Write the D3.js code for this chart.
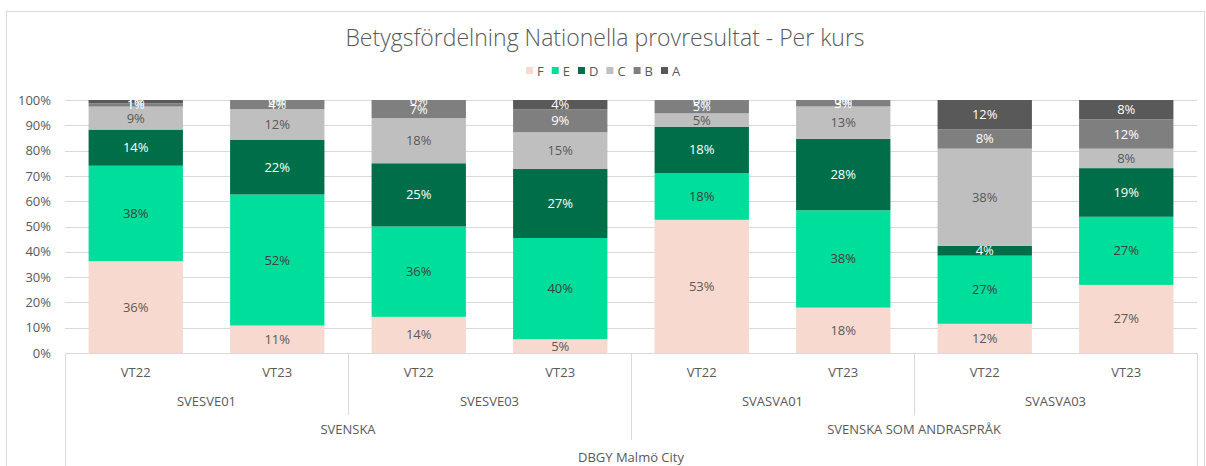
<!DOCTYPE html>
<html>
<head>
<meta charset="utf-8">
<script src="https://cdn.jsdelivr.net/npm/d3@7"></script>
<style>
  body { margin: 0; background: #fff; }
  svg text { font-family: "Open Sans", "DejaVu Sans", sans-serif; fill: #595959; }
</style>
</head>
<body>
<svg id="chart" width="1206" height="466"></svg>
<script>
// grades in stack order (bottom to top)
var grades = ["F", "E", "D", "C", "B", "A"];
var gradeColors = ["#F7D9D0", "#00DE9C", "#006F49", "#BFBFBF", "#7F7F7F", "#595959"];
var labelColors = ["#595959", "#404040", "#ffffff", "#595959", "#ffffff", "#ffffff"];

// x categories (three levels + school)
var terms = ["VT22", "VT23", "VT22", "VT23", "VT22", "VT23", "VT22", "VT23"];
var courses = ["SVESVE01", "SVESVE03", "SVASVA01", "SVASVA03"];
var subjects = ["SVENSKA", "SVENSKA SOM ANDRASPRÅK"];
var school = "DBGY Malmö City";

// share of students per grade (%), one value per bar
var valF = [36.36, 10.84, 14.29, 5.45, 52.63, 17.95, 11.54, 26.92];
var valE = [37.66, 51.81, 35.71, 40.00, 18.42, 38.46, 26.92, 26.92];
var valD = [14.29, 21.69, 25.00, 27.27, 18.42, 28.21, 3.85, 19.23];
var valC = [9.09, 12.05, 17.86, 14.55, 5.26, 12.82, 38.46, 7.69];
var valB = [1.30, 3.61, 7.14, 9.09, 5.26, 2.56, 7.69, 11.54];
var valA = [1.30, 0, 0, 3.64, 0, 0, 11.54, 7.69];

var yTicks = [0, 0.1, 0.2, 0.3, 0.4, 0.5, 0.6, 0.7, 0.8, 0.9, 1];

var series = [valF, valE, valD, valC, valB, valA];
var rows = terms.map(function(t, i) {
    var r = { idx: i };
    grades.forEach(function(g, k) { r[g] = series[k][i]; });
    return r;
});

var svg = d3.select("#chart");

// chart area border
svg.append("rect")
    .attr("x", 6.5).attr("y", 11.5)
    .attr("width", 1198).attr("height", 480)
    .attr("fill", "none").attr("stroke", "#D9D9D9");

var margin = { left: 65, right: 1197, top: 100, bottom: 353 };

var x = d3.scaleBand()
    .domain(d3.range(terms.length))
    .range([margin.left, margin.right])
    .paddingInner(1 / 3)
    .paddingOuter(1 / 6);

var y = d3.scaleLinear()
    .domain([0, 1])
    .range([margin.bottom, margin.top]);

// title
svg.append("text")
    .attr("x", 605).attr("y", 46)
    .attr("text-anchor", "middle")
    .style("font-size", "23px")
    .style("font-weight", 300)
    .text("Betygsfördelning Nationella provresultat - Per kurs");

// gridlines
svg.append("g")
    .selectAll("line")
    .data(yTicks.slice(1))
    .enter().append("line")
    .attr("x1", margin.left).attr("x2", margin.right)
    .attr("y1", function(d) { return Math.round(y(d)) + 0.5; })
    .attr("y2", function(d) { return Math.round(y(d)) + 0.5; })
    .attr("stroke", "#D9D9D9");

// y axis labels
var yAxis = d3.axisLeft(y)
    .tickValues(yTicks)
    .tickFormat(d3.format(".0%"))
    .tickSize(0)
    .tickPadding(10);
var yg = svg.append("g")
    .attr("transform", "translate(" + (margin.left - 4) + ",0)")
    .call(yAxis);
yg.select(".domain").remove();
yg.selectAll("text")
    .style("font-size", "13px")
    .style("font-family", null)
    .attr("fill", "#595959");

// stacked bars
var stack = d3.stack().keys(grades);
var stacked = stack(rows);
var yPct = function(v) { return y(v / 100); };

var layer = svg.append("g")
    .selectAll("g")
    .data(stacked)
    .enter().append("g")
    .attr("fill", function(d, i) { return gradeColors[i]; });

layer.selectAll("rect")
    .data(function(d) { return d; })
    .enter().append("rect")
    .attr("x", function(d) { return x(d.data.idx); })
    .attr("width", x.bandwidth())
    .attr("y", function(d) { return yPct(Math.min(d[1], 100)); })
    .attr("height", function(d) { return yPct(d[0]) - yPct(Math.min(d[1], 100)); });

// data labels
stacked.forEach(function(s, k) {
    svg.append("g")
        .selectAll("text")
        .data(s)
        .enter().append("text")
        .attr("x", function(d) { return x(d.data.idx) + x.bandwidth() / 2; })
        .attr("y", function(d) { return (yPct(d[0]) + yPct(Math.min(d[1], 100))) / 2; })
        .attr("dy", "0.35em")
        .attr("text-anchor", "middle")
        .style("font-size", "13px")
        .style("fill", labelColors[k])
        .text(function(d) { return Math.round(d[1] - d[0]) + "%"; });
});

// category axis lines
var axisCol = "#D9D9D9";
var rowY = [353, 387, 415, 442, 470];
svg.append("line")
    .attr("x1", margin.left).attr("x2", margin.right)
    .attr("y1", margin.bottom + 0.5).attr("y2", margin.bottom + 0.5)
    .attr("stroke", axisCol);
[margin.left, margin.right].forEach(function(px) {
    svg.append("line")
        .attr("x1", px + 0.5).attr("x2", px + 0.5)
        .attr("y1", margin.bottom).attr("y2", 470)
        .attr("stroke", axisCol);
});

var step = x.step();
function groupEdge(i) { return margin.left + step * i; }

// separators between courses and between subjects
[2, 6].forEach(function(i) {
    svg.append("line")
        .attr("x1", Math.round(groupEdge(i)) + 0.5).attr("x2", Math.round(groupEdge(i)) + 0.5)
        .attr("y1", margin.bottom).attr("y2", rowY[2])
        .attr("stroke", axisCol);
});
svg.append("line")
    .attr("x1", Math.round(groupEdge(4)) + 0.5).attr("x2", Math.round(groupEdge(4)) + 0.5)
    .attr("y1", margin.bottom).attr("y2", rowY[3] - 2)
    .attr("stroke", axisCol);

// term labels
svg.append("g").selectAll("text")
    .data(terms)
    .enter().append("text")
    .attr("x", function(d, i) { return x(i) + x.bandwidth() / 2; })
    .attr("y", 372).attr("dy", "0.35em")
    .attr("text-anchor", "middle")
    .style("font-size", "13px")
    .text(function(d) { return d; });

// course labels
svg.append("g").selectAll("text")
    .data(courses)
    .enter().append("text")
    .attr("x", function(d, i) { return groupEdge(i * 2) + step; })
    .attr("y", 401).attr("dy", "0.35em")
    .attr("text-anchor", "middle")
    .style("font-size", "13px")
    .text(function(d) { return d; });

// subject labels
svg.append("g").selectAll("text")
    .data(subjects)
    .enter().append("text")
    .attr("x", function(d, i) { return groupEdge(i * 4) + step * 2; })
    .attr("y", 429).attr("dy", "0.35em")
    .attr("text-anchor", "middle")
    .style("font-size", "13px")
    .text(function(d) { return d; });

svg.append("text")
    .attr("x", (margin.left + margin.right) / 2)
    .attr("y", 457).attr("dy", "0.35em")
    .attr("text-anchor", "middle")
    .style("font-size", "13px")
    .text(school);

// legend
var legend = svg.append("g");
var lx = 526;
grades.forEach(function(g, i) {
    legend.append("rect")
        .attr("x", lx).attr("y", 67)
        .attr("width", 7).attr("height", 7)
        .attr("fill", gradeColors[i]);
    var t = legend.append("text")
        .attr("x", lx + 11).attr("y", 71).attr("dy", "0.35em")
        .style("font-size", "13px")
        .text(g);
    lx += 11 + t.node().getComputedTextLength() + 8;
});
</script>
</body>
</html>
